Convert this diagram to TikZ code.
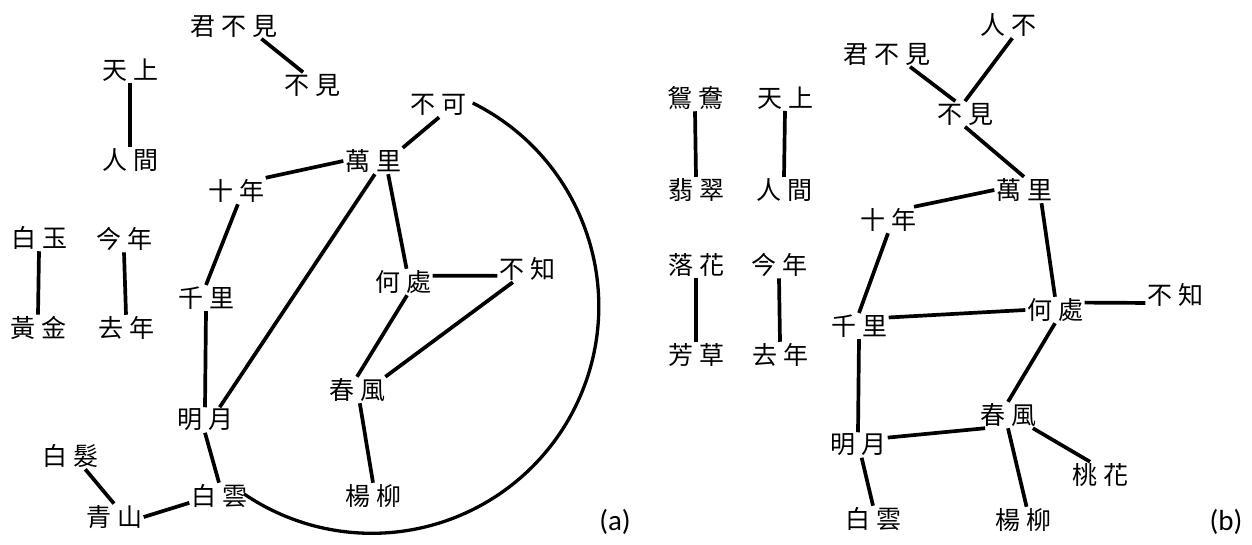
\documentclass[tikz,border=0pt]{standalone}
\usepackage{fontspec}
\newfontfamily\cjkf{Noto Sans CJK TC}
\newfontfamily\labf{Carlito}
\newcommand\gapc{\hspace{6pt}}
\begin{document}
\begin{tikzpicture}[x=1pt,y=-1pt,
  w/.style={inner sep=1.5pt, font=\cjkf\fontsize{25}{27}\selectfont},
  lab/.style={inner sep=0pt, font=\labf\fontsize{29}{32}\selectfont},
  edge/.style={line width=3.7pt}]
\fill[white] (0,0) rectangle (1252,545);
\useasboundingbox (0,0) rectangle (1252,545);
% ---------- panel (a) ----------
\node[w] (aJBJ) at (234,26) {君\gapc 不\gapc 見};
\node[w] (aBJ) at (312,85) {不\gapc 見};
\node[w] (aTS) at (130,70) {天\gapc 上};
\node[w] (aRJ) at (130,160) {人\gapc 間};
\node[w] (aBY) at (39,238) {白\gapc 玉};
\node[w] (aJN) at (124,239) {今\gapc 年};
\node[w] (aHJ) at (38,328) {黃\gapc 金};
\node[w] (aQN) at (126,328) {去\gapc 年};
\node[w] (aSN) at (236,191) {十\gapc 年};
\node[w] (aWL) at (373,161) {萬\gapc 里};
\node[w] (aBK) at (438,105) {不\gapc 可};
\node[w] (aQL) at (206,298) {千\gapc 里};
\node[w] (aMY) at (205,420) {明\gapc 月};
\node[w] (aBF) at (70,456) {白\gapc 髮};
\node[w] (aQS) at (114,517) {青\gapc 山};
\node[w] (aBYun) at (219,496) {白\gapc 雲};
\node[w] (aHC) at (403,282) {何\gapc 處};
\node[w] (aBZ) at (527,269) {不\gapc 知};
\node[w] (aCF) at (357,390) {春\gapc 風};
\node[w] (aYL) at (373,496) {楊\gapc 柳};
\node[lab] (labA) at (615,522) {(a)};
\draw[edge] (aJBJ.-25) -- (aBJ.125);
\draw[edge] (aTS.south) -- (aRJ.north);
\draw[edge] (aBY.south) -- (aHJ.north);
\draw[edge] (aJN.south) -- (aQN.north);
\draw[edge] (aWL.west) -- (aSN.24);
\draw[edge] (aWL.north east) -- (aBK.-85);
\draw[edge] (aWL.-41) -- (aHC.75);
\draw[edge] (aWL.-82) -- (aMY.41);
\draw[edge] (aSN.-82) -- (aQL.north);
\draw[edge] (aQL.south) -- (aMY.north);
\draw[edge] (aMY.south) -- (aBYun.north);
\draw[edge] (aBYun.193) -- (aQS.east);
\draw[edge] (aQS.north) -- (aBF.-41);
\draw[edge] (aHC.12) -- (aBZ.193);
\draw[edge] (aHC.-73) -- (aCF.north);
\draw[edge] (aBZ.-137) -- (aCF.25);
\draw[edge] (aCF.-78) -- (aYL.north);
\draw[edge,line width=3.3pt] ([xshift=5pt,yshift=2pt]aBK.east) arc[start angle=-63.6, end angle=124.3, radius=227];
% ---------- panel (b) ----------
\node[w] (bYY) at (695,98) {鴛\gapc 鴦};
\node[w] (bFC) at (696,190) {翡\gapc 翠};
\node[w] (bTS) at (785,98) {天\gapc 上};
\node[w] (bRJ) at (784,190) {人\gapc 間};
\node[w] (bLH) at (696,265) {落\gapc 花};
\node[w] (bJN) at (779,265) {今\gapc 年};
\node[w] (bFCao) at (696,355) {芳\gapc 草};
\node[w] (bQN) at (780,355) {去\gapc 年};
\node[w] (bJBJ) at (887,54) {君\gapc 不\gapc 見};
\node[w] (bRB) at (1008,25) {人\gapc 不};
\node[w] (bBJ) at (965,114) {不\gapc 見};
\node[w] (bWL) at (1024,190) {萬\gapc 里};
\node[w] (bSN) at (888,220) {十\gapc 年};
\node[w] (bQL) at (859,326) {千\gapc 里};
\node[w] (bHC) at (1055,310) {何\gapc 處};
\node[w] (bBZ) at (1175,295) {不\gapc 知};
\node[w] (bCF) at (1008,415) {春\gapc 風};
\node[w] (bMY) at (858,445) {明\gapc 月};
\node[w] (bTH) at (1100,475) {桃\gapc 花};
\node[w] (bBYun) at (873,519) {白\gapc 雲};
\node[w] (bYL) at (1023,520) {楊\gapc 柳};
\node[lab] (labB) at (1226,522) {(b)};
\draw[edge] (bYY.south) -- (bFC.north);
\draw[edge] (bTS.south) -- (bRJ.north);
\draw[edge] (bLH.south) -- (bFCao.north);
\draw[edge] (bJN.south) -- (bQN.north);
\draw[edge] (bJBJ.-29) -- (bBJ.127);
\draw[edge] (bRB.-72) -- (bBJ.north);
\draw[edge] (bBJ.south) -- (bWL.north);
\draw[edge] (bWL.west) -- (bSN.27);
\draw[edge] (bWL.-37) -- (bHC.north);
\draw[edge] (bSN.south) -- (bQL.north);
\draw[edge] (bQL.16) -- (bHC.west);
\draw[edge] (bHC.14) -- (bBZ.195);
\draw[edge] (bHC.south) -- (bCF.north);
\draw[edge] (bQL.south) -- (bMY.north);
\draw[edge] (bMY.14) -- (bCF.-150);
\draw[edge] (bMY.-74) -- (bBYun.north);
\draw[edge] (bCF.south) -- (bYL.75);
\draw[edge] (bCF.-28) -- (bTH.127);
\end{tikzpicture}
\end{document}
